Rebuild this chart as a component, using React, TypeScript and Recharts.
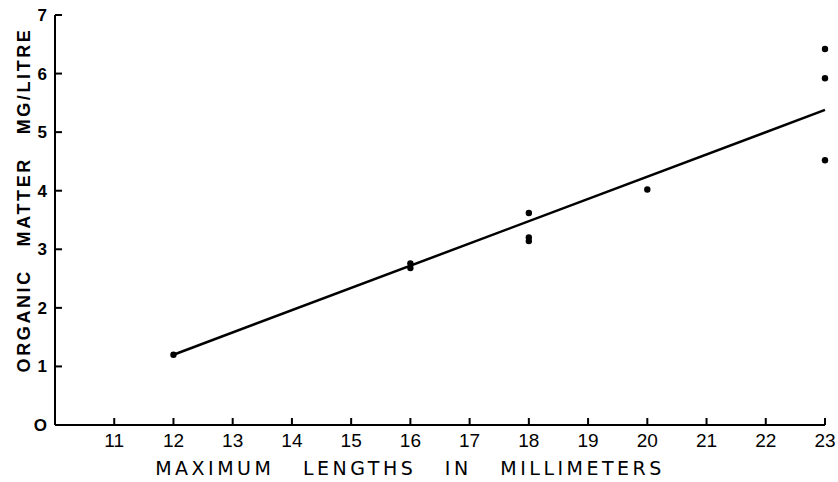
import { ComposedChart, Scatter, XAxis, YAxis, Label } from "recharts";

const lengths = [12, 16, 16, 18, 18, 18, 20, 23, 23, 23];
const organicMatter = [1.2, 2.76, 2.68, 3.62, 3.2, 3.14, 4.02, 6.42, 5.92, 4.52];

// fitted straight line, end points
const fitLengths = [12, 23];
const fitValues = [1.2, 5.38];

const xTicks = [10, 11, 12, 13, 14, 15, 16, 17, 18, 19, 20, 21, 22, 23];
const yTicks = [0, 1, 2, 3, 4, 5, 6, 7];

const points = lengths.map((x, i) => ({ x, y: organicMatter[i] }));
const fit = fitLengths.map((x, i) => ({ x, y: fitValues[i] }));
// inward tick marks, placed through the scales
const xMarks = xTicks.filter((t) => t > 10).map((x) => ({ x, y: 0 }));
const yMarks = yTicks.filter((t) => t > 0).map((y) => ({ x: 10, y }));

const FONT = "'Liberation Sans', Arial, sans-serif";
const NARROW = "'Liberation Sans Narrow', 'Liberation Sans', Arial, sans-serif";
const WIDE = "'DejaVu Sans', sans-serif";

const XTick = (props: any) => {
  const { x, y, payload } = props;
  if (payload.value === 10) return null;
  return (
    <text x={x} y={y + 22} textAnchor="middle" fontSize={19} fontFamily={NARROW} fill="#000">
      {payload.value}
    </text>
  );
};

const YTick = (props: any) => {
  const { x, y, payload } = props;
  return (
    <text x={x - 8} y={y + 6} textAnchor="end" fontSize={17} fontWeight="bold" fontFamily={FONT} fill="#000">
      {payload.value === 0 ? "O" : payload.value}
    </text>
  );
};

const Dot = (props: any) => <circle cx={props.cx} cy={props.cy} r={3.2} fill="#000" />;
const UpMark = (props: any) => <rect x={props.cx - 1} y={props.cy - 7} width={2} height={7} fill="#000" />;
const RightMark = (props: any) => <rect x={props.cx} y={props.cy - 1} width={7} height={2} fill="#000" />;

const XTitle = (props: any) => {
  const vb = props.viewBox;
  return (
    <text
      x={vb.x + vb.width / 2 - 30}
      y={475}
      textAnchor="middle"
      fontSize={19}
      fontFamily={WIDE}
      letterSpacing={3.5}
      fill="#000"
      style={{ whiteSpace: "pre" }}
    >
      {"MAXIMUM   LENGTHS   IN   MILLIMETERS"}
    </text>
  );
};

const YTitle = () => (
  <text
    x={0}
    y={0}
    transform="translate(30, 200) rotate(-90)"
    textAnchor="middle"
    fontSize={18}
    fontWeight="bold"
    fontFamily={FONT}
    letterSpacing={2.6}
    fill="#000"
    style={{ whiteSpace: "pre" }}
  >
    {"ORGANIC   MATTER   MG/LITRE"}
  </text>
);

export default function App() {
  return (
    <div style={{ position: "absolute", left: 0, top: 0, background: "#fff" }}>
      <ComposedChart width={838} height={482} margin={{ top: 15, right: 13, bottom: 0, left: 0 }}>
        <XAxis
          type="number"
          dataKey="x"
          domain={[10, 23]}
          ticks={xTicks}
          interval={0}
          tickSize={0}
          tickMargin={0}
          tick={<XTick />}
          tickLine={false}
          height={57}
          axisLine={{ stroke: "#000", strokeWidth: 2 }}
        >
          <Label content={<XTitle />} />
        </XAxis>
        <YAxis
          type="number"
          dataKey="y"
          domain={[0, 7]}
          ticks={yTicks}
          interval={0}
          tickSize={0}
          tickMargin={0}
          tick={<YTick />}
          tickLine={false}
          width={55}
          axisLine={{ stroke: "#000", strokeWidth: 2 }}
        >
          <Label content={<YTitle />} />
        </YAxis>
        <Scatter data={xMarks} shape={<UpMark />} isAnimationActive={false} />
        <Scatter data={yMarks} shape={<RightMark />} isAnimationActive={false} />
        <Scatter
          data={fit}
          line={{ stroke: "#000", strokeWidth: 2.5 }}
          shape={() => null}
          isAnimationActive={false}
        />
        <Scatter data={points} shape={<Dot />} isAnimationActive={false} />
      </ComposedChart>
    </div>
  );
}
